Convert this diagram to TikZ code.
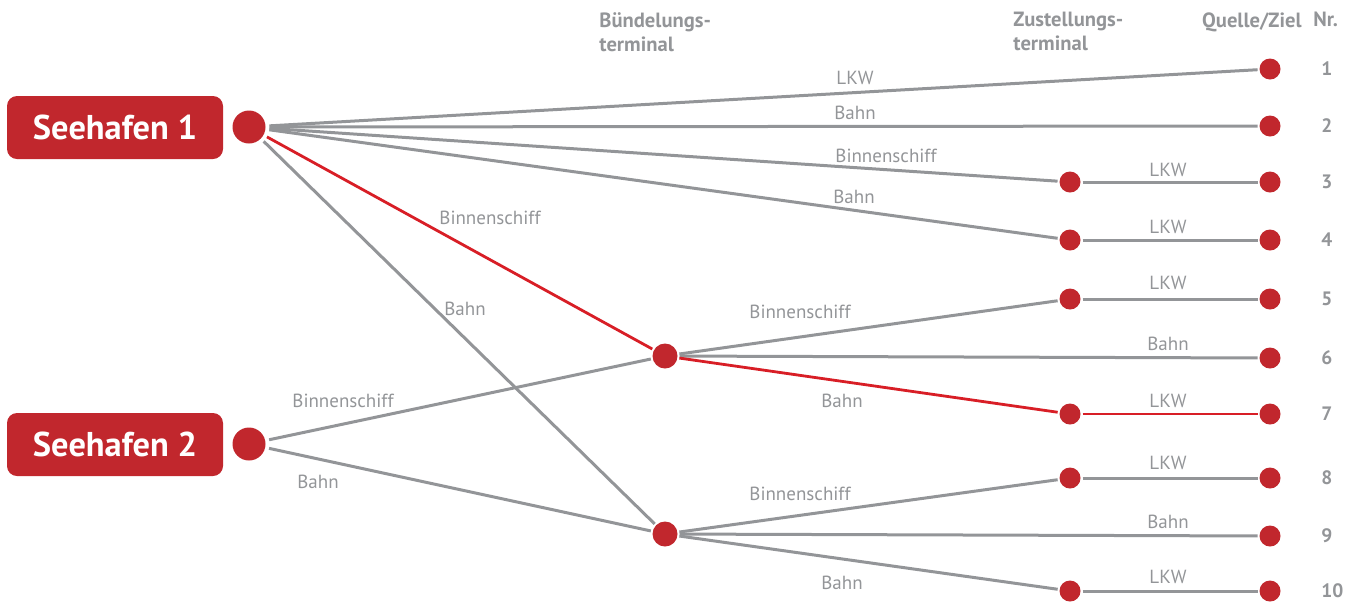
\documentclass[tikz,border=0pt]{standalone}
\usepackage{fontspec}
\setmainfont{PT Sans}
\usepackage{tikz}

\definecolor{hafenrot}{HTML}{C1272D}
\definecolor{linienrot}{HTML}{D81E26}
\definecolor{grau}{HTML}{939598}

\tikzset{
  hafen/.style={fill=hafenrot, text=white, rounded corners=5pt, minimum width=108pt, minimum height=31.5pt, inner sep=0pt, font=\bfseries\fontsize{17.2}{20}\selectfont},
  punkt/.style={circle, fill=hafenrot, inner sep=0pt, outer sep=1pt, minimum size=#1},
  weg/.style={draw=grau, line width=1.5pt},
  rotweg/.style={draw=linienrot, line width=1.4pt},
  lbl/.style={text=grau, inner sep=0pt, font=\fontsize{9.5}{11}\selectfont},
  kopf/.style={text=grau, inner sep=0pt, anchor=north west, align=left, font=\bfseries\fontsize{10.3}{12}\selectfont},
  nr/.style={text=grau, inner sep=0pt, anchor=west, font=\bfseries\fontsize{9.7}{11}\selectfont}
}

\begin{document}
\begin{tikzpicture}[x=0.5pt,y=-0.5pt]
\useasboundingbox (0,0) rectangle (1358,601);

% Kopfzeile
\node[kopf] (kbuendel) at (599,12) {Bündelungs-\\terminal};
\node[kopf] (kzustell) at (1013,12) {Zustellungs-\\terminal};
\node[kopf, anchor=north east] (kquelle) at (1302,12) {Quelle/Ziel};
\node[kopf] (knr) at (1313,12) {Nr.};

% Seehaefen
\node[hafen] (s1box) at (115,127.5) {Seehafen 1};
\node[hafen] (s2box) at (115,444.5) {Seehafen 2};
\node[punkt=16.5pt, outer sep=2pt] (s1) at (249,127) {};
\node[punkt=16.5pt, outer sep=2pt] (s2) at (249,444) {};

% Buendelungsterminals
\node[punkt=12.5pt] (b1) at (665,356) {};
\node[punkt=12.5pt] (b2) at (665,534) {};

% Zustellungsterminals
\node[punkt=10.5pt] (z3) at (1070,182) {};
\node[punkt=10.5pt] (z4) at (1070,240) {};
\node[punkt=10.5pt] (z5) at (1070,299) {};
\node[punkt=10.5pt] (z7) at (1070,414) {};
\node[punkt=10.5pt] (z8) at (1070,478) {};
\node[punkt=10.5pt] (z10) at (1070,591) {};

% Quelle/Ziel mit Nummer
\foreach \n/\y in {1/69,2/126,3/182,4/240,5/299,6/358,7/414,8/478,9/536,10/591} {
  \node[punkt=10.5pt] (q\n) at (1270,\y) {};
  \node[nr] (nr\n) at (1321,\y) {\n};
}

% Verbindungen Seehafen 1
\draw[weg] (s1) -- (q1);
\draw[weg] (s1) -- (q2);
\draw[weg] (s1) -- (z3);
\draw[weg] (s1) -- (z4);
\draw[rotweg] (s1) -- (b1);
\draw[weg] (s1) -- (b2);
% Verbindungen Seehafen 2
\draw[weg] (s2) -- (b1);
\draw[weg] (s2) -- (b2);
% ab Buendelungsterminal
\draw[weg] (b1) -- (z5);
\draw[weg] (b1) -- (q6);
\draw[rotweg] (b1) -- (z7);
\draw[weg] (b2) -- (z8);
\draw[weg] (b2) -- (q9);
\draw[weg] (b2) -- (z10);
% Nachlauf
\draw[weg] (z3) -- (q3);
\draw[weg] (z4) -- (q4);
\draw[weg] (z5) -- (q5);
\draw[rotweg] (z7) -- (q7);
\draw[weg] (z8) -- (q8);
\draw[weg] (z10) -- (q10);

% Beschriftungen
\node[lbl] (l1) at (855,78) {LKW};
\node[lbl] (l2) at (855,113) {Bahn};
\node[lbl] (l3) at (886,156) {Binnenschiff};
\node[lbl] (l4) at (854,197) {Bahn};
\node[lbl] (l5) at (490,218) {Binnenschiff};
\node[lbl] (l6) at (465,309) {Bahn};
\node[lbl] (l7) at (343,401) {Binnenschiff};
\node[lbl] (l8) at (318,482) {Bahn};
\node[lbl] (l9) at (800,312) {Binnenschiff};
\node[lbl] (l10) at (1168,344) {Bahn};
\node[lbl] (l11) at (842,401) {Bahn};
\node[lbl] (l12) at (800,494) {Binnenschiff};
\node[lbl] (l13) at (1168,522) {Bahn};
\node[lbl] (l14) at (842,583) {Bahn};
\node[lbl] (l15) at (1168,170) {LKW};
\node[lbl] (l16) at (1168,227) {LKW};
\node[lbl] (l17) at (1168,283) {LKW};
\node[lbl] (l18) at (1168,401) {LKW};
\node[lbl] (l19) at (1168,463) {LKW};
\node[lbl] (l20) at (1168,577) {LKW};
\end{tikzpicture}
\end{document}
